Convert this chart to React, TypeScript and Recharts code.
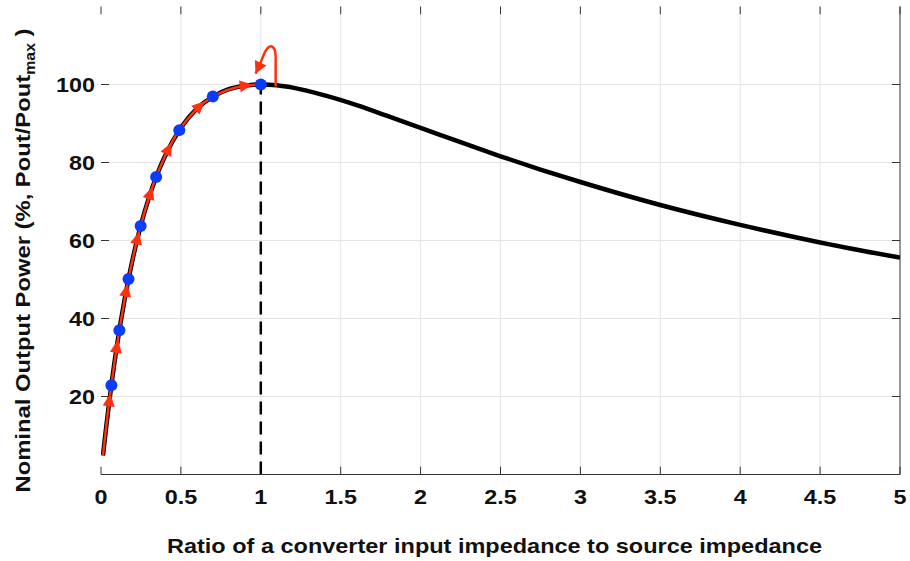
import React from 'react';
import { LineChart, Line, XAxis, YAxis, ReferenceLine, Label } from 'recharts';

// Power transfer curve (ratio -> nominal output power %)
const curveX = [0.0125, 0.03, 0.05, 0.07, 0.1, 0.15, 0.2, 0.25, 0.3, 0.35, 0.4, 0.5, 0.6, 0.7, 0.8, 0.9, 1.0, 1.1, 1.2, 1.4, 1.6, 1.8, 2.0, 2.25, 2.5, 2.75, 3.0, 3.5, 4.0, 4.5, 5.0];
const curveY = [4.9, 11.3, 18.1, 24.5, 33.1, 45.4, 55.6, 64.0, 71.0, 76.8, 81.6, 88.9, 93.8, 96.9, 98.8, 99.7, 100, 99.8, 99.2, 97.2, 94.7, 91.8, 88.9, 85.2, 81.6, 78.2, 75.0, 69.1, 64.0, 59.5, 55.6];

// Red tracking path (with arrow positions)
const redX = [0.0125, 0.03, 0.045, 0.052, 0.06, 0.09, 0.098, 0.107, 0.145, 0.157, 0.17, 0.21, 0.227, 0.245, 0.29, 0.307, 0.325, 0.4, 0.42, 0.44, 0.58, 0.614, 0.65, 0.85, 0.9, 0.95, 1.0];
const redY = [4.9, 11.3, 16.5, 18.8, 21.4, 30.3, 32.5, 34.9, 44.2, 46.9, 49.7, 57.4, 60.3, 63.2, 69.7, 71.9, 74.1, 81.6, 83.3, 84.9, 92.9, 94.3, 95.5, 99.3, 99.7, 99.9, 100];
const arrowX = [0.052, 0.098, 0.157, 0.227, 0.307, 0.42, 0.614, 0.9];

// Blue operating points
const blueX = [0.065, 0.115, 0.172, 0.248, 0.345, 0.49, 0.7, 1.0];
const blueY = [22.9, 37.0, 50.1, 63.7, 76.3, 88.3, 96.9, 100];

// Curved return arrow near the peak
const loopX = [1.093, 1.093, 1.088, 1.065, 1.038, 1.017, 0.995, 0.967];
const loopY = [99.5, 106.3, 108.8, 109.8, 109.1, 107.5, 105.2, 102.8];

// Dashed line at ratio = 1
const dashX = [1, 1];
const dashY = [0, 100];

const xTicks = [0, 0.5, 1, 1.5, 2, 2.5, 3, 3.5, 4, 4.5, 5];
const xTickLabels = ['0', '0.5', '1', '1.5', '2', '2.5', '3', '3.5', '4', '4.5', '5'];
const yTicks = [20, 40, 60, 80, 100];
const yTickLabels = ['20', '40', '60', '80', '100'];
const gridX = [0.5, 1, 1.5, 2, 2.5, 3, 3.5, 4, 4.5];
const gridY = [20, 40, 60, 80, 100];

const xLabel = 'Ratio of a converter input impedance to source impedance';
const yLabelMain = 'Nominal Output Power (%, Pout/Pout';
const yLabelSub = 'max';
const yLabelEnd = ' )';

const curveData = curveX.map((x, i) => ({ x, y: curveY[i] }));
const redData = redX.map((x, i) => ({ x, y: redY[i], arrow: arrowX.includes(x) }));
const blueData = blueX.map((x, i) => ({ x, y: blueY[i] }));
const loopData = loopX.map((x, i) => ({ x, y: loopY[i], head: i === loopX.length - 1 }));
const dashData = dashX.map((x, i) => ({ x, y: dashY[i] }));

const FONT = '"Liberation Sans", Arial, Helvetica, sans-serif';
const RED = '#ff3010';
const BLUE = '#0b3cfb';
const AXIS = '#333333';
const GRID = '#e4e4e4';

const tri = (cx: number, cy: number, ang: number, front: number, back: number, half: number) => {
  const c = Math.cos(ang), s = Math.sin(ang);
  const tx = cx + front * c, ty = cy + front * s;
  const bx = cx - back * c, by = cy - back * s;
  const lx = bx - half * s, ly = by + half * c;
  const rx = bx + half * s, ry = by - half * c;
  return `M${tx},${ty}L${lx},${ly}L${rx},${ry}Z`;
};

const ArrowDot = (props: any) => {
  const { cx, cy, index, points, payload } = props;
  if (!payload || !payload.arrow || cx == null) return null;
  const p0 = points && points[index - 1] ? points[index - 1] : { x: cx - 1, y: cy + 3 };
  const p1 = points && points[index + 1] ? points[index + 1] : { x: cx + 1, y: cy - 3 };
  const ang = Math.atan2(p1.y - p0.y, p1.x - p0.x);
  return <path key={`a${index}`} d={tri(cx, cy, ang, 8, 5, 6)} fill={RED} stroke="none" />;
};

const HeadDot = (props: any) => {
  const { cx, cy, index, points, payload } = props;
  if (!payload || !payload.head || cx == null) return null;
  const p0 = points && points[index - 1] ? points[index - 1] : { x: cx + 4, y: cy - 8 };
  const ang = Math.atan2(cy - p0.y, cx - p0.x);
  return <path key={`h${index}`} d={tri(cx, cy, ang, 0, 12, 6.5)} fill={RED} stroke="none" />;
};

const XTick = (props: any) => {
  const { x, y, payload } = props;
  const i = xTicks.indexOf(payload.value);
  return (
    <text
      transform={`translate(${x},${y + 29.5}) scale(1.14,1)`}
      textAnchor="middle"
      fontFamily={FONT}
      fontWeight="bold"
      fontSize={20.5}
      fill="#111"
    >
      {i >= 0 ? xTickLabels[i] : String(payload.value)}
    </text>
  );
};

const YTick = (props: any) => {
  const { x, y, payload } = props;
  const i = yTicks.indexOf(payload.value);
  return (
    <text
      transform={`translate(${x - 6},${y + 7.5}) scale(1.14,1)`}
      textAnchor="end"
      fontFamily={FONT}
      fontWeight="bold"
      fontSize={20.5}
      fill="#111"
    >
      {i >= 0 ? yTickLabels[i] : String(payload.value)}
    </text>
  );
};

const XLabelContent = (props: any) => {
  const vb = props.viewBox || { x: 101, y: 474.5, width: 799, height: 86.5 };
  return (
    <text
      x={vb.x + vb.width / 2 - 6}
      y={vb.y + 78.5}
      textAnchor="middle"
      fontFamily={FONT}
      fontWeight="bold"
      fontSize={21}
      textLength={655}
      lengthAdjust="spacingAndGlyphs"
      fill="#111"
    >
      {xLabel}
    </text>
  );
};

const YLabelContent = (props: any) => {
  const vb = props.viewBox || { x: 0, y: 6.5, width: 101, height: 468 };
  const cx = vb.x + 30;
  const cy = vb.y + vb.height / 2 + 20;
  return (
    <text
      x={cx}
      y={cy}
      transform={`rotate(-90, ${cx}, ${cy})`}
      textAnchor="middle"
      fontFamily={FONT}
      fontWeight="bold"
      fontSize={21}
      textLength={464}
      lengthAdjust="spacingAndGlyphs"
      fill="#111"
    >
      {yLabelMain}
      <tspan fontSize={14} dy={5}>{yLabelSub}</tspan>
      <tspan dy={-5}>{yLabelEnd}</tspan>
    </text>
  );
};

export default function App() {
  return (
    <div style={{ position: 'absolute', left: 0, top: 0, width: 910, height: 561, background: '#fff' }}>
      <LineChart width={910} height={561} margin={{ top: 6.5, right: 10, bottom: 0, left: 0 }}>
        <XAxis
          type="number"
          dataKey="x"
          domain={[0, 5]}
          ticks={xTicks}
          allowDataOverflow
          height={86.5}
          axisLine={{ stroke: AXIS, strokeWidth: 1 }}
          tickLine={false}
          tickSize={0}
          tickMargin={0}
          tick={<XTick />}
          interval={0}
        >
          <Label content={<XLabelContent />} />
        </XAxis>
        <YAxis
          type="number"
          domain={[0, 120]}
          ticks={yTicks}
          allowDataOverflow
          width={101}
          axisLine={false}
          tickLine={false}
          tickSize={0}
          tickMargin={0}
          tick={<YTick />}
          interval={0}
        >
          <Label content={<YLabelContent />} />
        </YAxis>

        {gridX.map((g) => (
          <ReferenceLine key={`gx${g}`} x={g} stroke={GRID} strokeWidth={1} />
        ))}
        {gridY.map((g) => (
          <ReferenceLine key={`gy${g}`} y={g} stroke={GRID} strokeWidth={1} />
        ))}

        <ReferenceLine x={5} stroke={AXIS} strokeWidth={1} />
        {xTicks.map((t) => (
          <ReferenceLine key={`bt${t}`} segment={[{ x: t, y: 0 }, { x: t, y: 2 }]} stroke={AXIS} strokeWidth={1} />
        ))}
        {xTicks.map((t) => (
          <ReferenceLine key={`tt${t}`} segment={[{ x: t, y: 120 }, { x: t, y: 118 }]} stroke={AXIS} strokeWidth={1} />
        ))}
        {yTicks.map((t) => (
          <ReferenceLine key={`lt${t}`} segment={[{ x: 0, y: t }, { x: 0.05, y: t }]} stroke={AXIS} strokeWidth={1} />
        ))}
        {yTicks.map((t) => (
          <ReferenceLine key={`rt${t}`} segment={[{ x: 5, y: t }, { x: 4.95, y: t }]} stroke={AXIS} strokeWidth={1} />
        ))}

        <Line data={dashData} dataKey="y" type="linear" stroke="#000" strokeWidth={2.5} strokeDasharray="13 7" dot={false} activeDot={false} isAnimationActive={false} />
        <Line data={curveData} dataKey="y" type="monotone" stroke="#000" strokeWidth={4.5} dot={false} activeDot={false} isAnimationActive={false} />
        <Line data={redData} dataKey="y" type="monotone" stroke={RED} strokeWidth={2.5} dot={<ArrowDot />} activeDot={false} isAnimationActive={false} />
        <Line data={blueData} dataKey="y" type="linear" stroke="none" dot={{ r: 6, fill: BLUE, stroke: 'none' }} activeDot={false} isAnimationActive={false} />
        <Line data={loopData} dataKey="y" type="natural" stroke={RED} strokeWidth={2.5} dot={<HeadDot />} activeDot={false} isAnimationActive={false} />
      </LineChart>
    </div>
  );
}
